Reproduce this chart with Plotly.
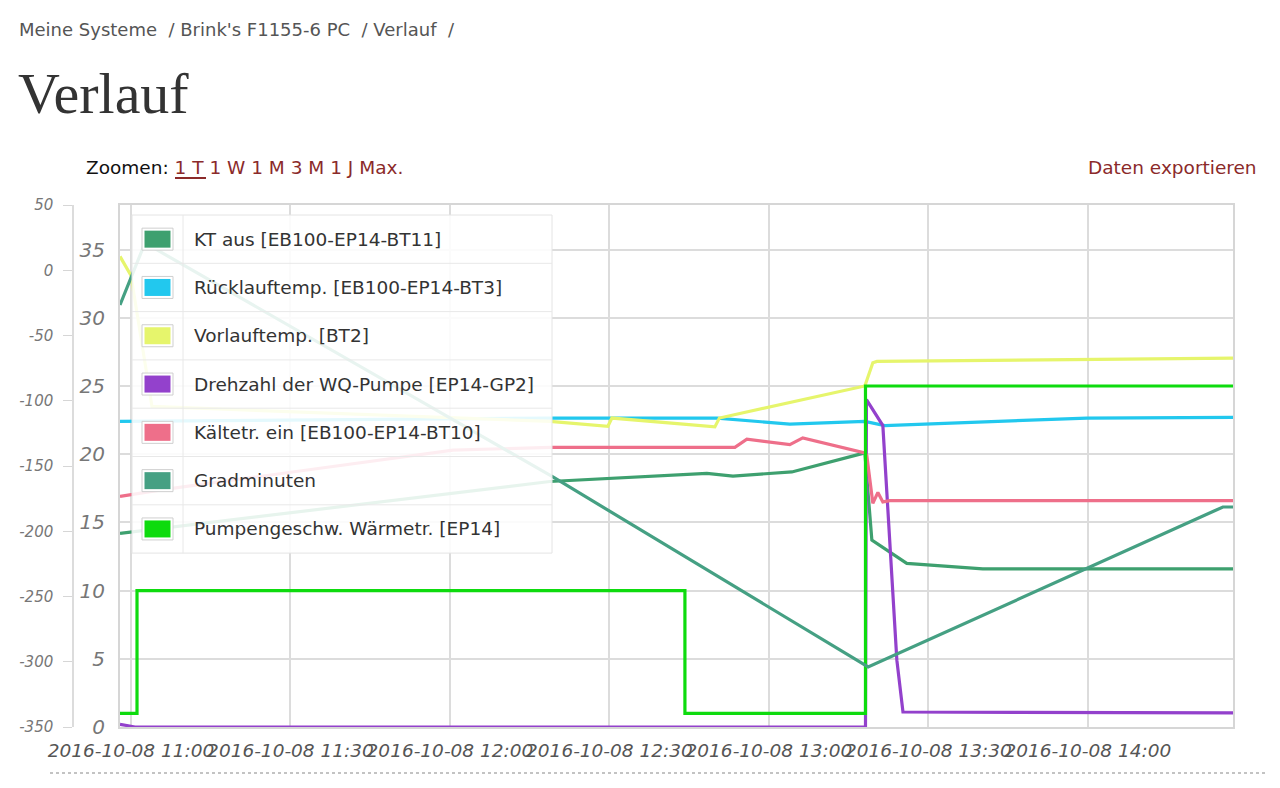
import plotly.graph_objects as go

DAY = "2016-10-08 "

# --- data (times on 2016-10-08) ---
kt_aus_t = ["10:57:56", "12:18:48", "12:48:20", "12:53:14", "13:04:19", "13:18:03",
            "13:19:22", "13:25:56", "13:40:14", "14:27:18"]
kt_aus_v = [14.2, 18.0, 18.6, 18.4, 18.7, 20.1, 13.7, 12.0, 11.6, 11.6]

ruecklauf_t = ["10:57:56", "12:18:48", "12:50:15", "13:03:56", "13:18:03", "13:21:48",
               "13:59:48", "14:27:18"]
ruecklauf_v = [22.4, 22.65, 22.65, 22.2, 22.4, 22.1, 22.65, 22.7]

vorlauf_t = ["10:57:56", "11:00:00", "11:03:57", "12:18:48", "12:29:43", "12:30:28",
             "12:49:50", "12:50:41", "13:18:03", "13:19:33", "13:20:20", "13:59:48", "14:27:18"]
vorlauf_v = [34.5, 33.1, 23.5, 22.4, 22.05, 22.65, 22.0, 22.65, 25.0, 26.7, 26.8, 26.95, 27.05]

drehzahl_t = ["10:57:56", "11:00:45", "13:18:10", "13:18:21", "13:21:26", "13:23:07",
              "13:24:04", "13:25:13", "14:27:18"]
drehzahl_v = [0.2, 0.0, 0.0, 24.0, 22.1, 11.3, 4.9, 1.1, 1.03]

kaeltetr_t = ["10:57:56", "11:06:01", "12:00:34", "12:18:48", "12:53:36", "12:55:51",
              "13:03:56", "13:06:22", "13:18:03", "13:18:25", "13:19:33", "13:20:30",
              "13:21:26", "13:22:45", "14:27:18"]
kaeltetr_v = [16.9, 17.4, 20.3, 20.5, 20.5, 21.1, 20.7, 21.2, 20.1, 19.9, 16.4, 17.2,
              16.5, 16.6, 16.6]

gradmin_t = ["10:57:56", "11:02:38", "12:19:22", "13:18:40", "14:25:24", "14:27:18"]
gradmin_v = [-26.6, 20.9, -158.4, -304.0, -181.4, -181.4]

pumpe_t = ["10:57:56", "11:01:08", "12:44:12", "13:18:10", "14:27:18"]
pumpe_v = [1.0, 10.0, 1.0, 25.0, 25.0]

tick_times = ["11:00", "11:30", "12:00", "12:30", "13:00", "13:30", "14:00"]
left_ticks = [0, 5, 10, 15, 20, 25, 30, 35]
outer_ticks = [-350, -300, -250, -200, -150, -100, -50, 0, 50]

series = [
    ("KT aus [EB100-EP14-BT11]", kt_aus_t, kt_aus_v, "#3ea06f", "y", "linear"),
    ("Rücklauftemp. [EB100-EP14-BT3]", ruecklauf_t, ruecklauf_v, "#22c8ee", "y", "linear"),
    ("Vorlauftemp. [BT2]", vorlauf_t, vorlauf_v, "#e6f56c", "y", "linear"),
    ("Drehzahl der WQ-Pumpe [EP14-GP2]", drehzahl_t, drehzahl_v, "#9341cc", "y", "linear"),
    ("Kältetr. ein [EB100-EP14-BT10]", kaeltetr_t, kaeltetr_v, "#ee6f8a", "y", "linear"),
    ("Gradminuten", gradmin_t, gradmin_v, "#45a083", "y2", "linear"),
    ("Pumpengeschw. Wärmetr. [EP14]", pumpe_t, pumpe_v, "#0edb0e", "y", "hv"),
]

W, H = 1280, 788
FONT = "DejaVu Sans"
LINK = "#8b2a2a"


def px(x):
    return x / W


def py(y):
    return 1 - y / H


fig = go.Figure()
for name, t, v, color, axis, shape in series:
    fig.add_trace(go.Scatter(
        x=[DAY + s for s in t], y=v, name=name, yaxis=axis, mode="lines",
        line=dict(color=color, width=3.2, shape=shape), showlegend=False,
    ))

fig.update_layout(
    width=W, height=H, margin=dict(l=0, r=0, t=0, b=0),
    paper_bgcolor="white", plot_bgcolor="white",
    font=dict(family=FONT, color="#555"),
    xaxis=dict(
        type="date", domain=[px(120), px(1233)],
        range=[DAY + "10:57:56", DAY + "14:27:18"],
        tickvals=[DAY + s for s in tick_times],
        ticktext=[DAY + s for s in tick_times],
        tickangle=0, ticks="", ticklabelstandoff=6,
        tickfont=dict(size=18.5, style="italic", color="#555"),
        showgrid=True, gridcolor="#dcdcdc", gridwidth=1.5,
        showline=True, mirror=True, linecolor="#d6d6d6", linewidth=2,
        zeroline=False, automargin=False,
    ),
    yaxis=dict(
        domain=[py(727), py(205)], range=[0, 38.27],
        tickvals=left_ticks, ticks="", ticklabelstandoff=9,
        tickfont=dict(size=20, style="italic", color="#777"),
        showgrid=True, gridcolor="#dcdcdc", gridwidth=1.5,
        showline=True, mirror=True, linecolor="#d6d6d6", linewidth=2,
        zeroline=False, automargin=False,
    ),
    yaxis2=dict(
        overlaying="y", anchor="free", side="left", position=px(73),
        range=[-350, 50], tickvals=outer_ticks, ticktext=[str(v) for v in outer_ticks],
        ticks="outside", ticklen=9, tickcolor="#d6d6d6", ticklabelstandoff=7,
        tickfont=dict(size=15, style="italic", color="#777"),
        showgrid=False, zeroline=False,
        showline=True, linecolor="#dcdcdc", linewidth=1.5, automargin=False,
    ),
)

shapes = []
annotations = []

# page header
annotations.append(dict(
    text="Meine Systeme  / Brink's F1155-6 PC  / Verlauf  /",
    x=px(17), y=py(29), xref="paper", yref="paper", xanchor="left", yanchor="middle",
    showarrow=False, font=dict(family=FONT, size=18, color="#555"),
))
annotations.append(dict(
    text="Verlauf", x=px(16), y=py(93), xref="paper", yref="paper",
    xanchor="left", yanchor="middle", showarrow=False,
    font=dict(family="Liberation Serif", size=58, color="#333"),
))
annotations.append(dict(
    text="Zoomen: <span style='color:%s'>1 T 1 W 1 M 3 M 1 J Max.</span>" % LINK,
    x=px(84), y=py(168), xref="paper", yref="paper", xanchor="left", yanchor="middle",
    showarrow=False, font=dict(family=FONT, size=18.5, color="#111"),
))
shapes.append(dict(type="line", xref="paper", yref="paper", x0=px(175), x1=px(206),
                   y0=py(178), y1=py(178), line=dict(color=LINK, width=2)))
annotations.append(dict(
    text="Daten exportieren", x=px(1259), y=py(168), xref="paper", yref="paper",
    xanchor="right", yanchor="middle", showarrow=False,
    font=dict(family=FONT, size=18.5, color=LINK),
))
shapes.append(dict(type="line", xref="paper", yref="paper", x0=px(50), x1=px(1266),
                   y0=py(773), y1=py(773), line=dict(color="#b0b0b0", width=1.5, dash="dot")))

# legend table drawn over the plot
top, row_h, left, right, split = 215, 48.3, 132, 552, 183
shapes.append(dict(type="rect", xref="paper", yref="paper", layer="above",
                   x0=px(left), x1=px(right), y0=py(top), y1=py(top + 7 * row_h),
                   fillcolor="rgba(255,255,255,0.88)", line=dict(color="#e4e4e4", width=1)))
shapes.append(dict(type="line", xref="paper", yref="paper", layer="above",
                   x0=px(split), x1=px(split), y0=py(top), y1=py(top + 7 * row_h),
                   line=dict(color="#e8e8e8", width=1)))
for i, (name, _, _, color, _, _) in enumerate(series):
    yc = top + row_h * (i + 0.5)
    if i > 0:
        shapes.append(dict(type="line", xref="paper", yref="paper", layer="above",
                           x0=px(left), x1=px(right), y0=py(top + row_h * i), y1=py(top + row_h * i),
                           line=dict(color="#e8e8e8", width=1)))
    shapes.append(dict(type="rect", xref="paper", yref="paper", layer="above",
                       x0=px(142), x1=px(173), y0=py(yc - 11), y1=py(yc + 11),
                       fillcolor="white", line=dict(color="#cfcfcf", width=1)))
    shapes.append(dict(type="rect", xref="paper", yref="paper", layer="above",
                       x0=px(144.5), x1=px(170.5), y0=py(yc - 8.5), y1=py(yc + 8.5),
                       fillcolor=color, line=dict(width=0)))
    annotations.append(dict(
        text=name, x=px(192), y=py(yc), xref="paper", yref="paper",
        xanchor="left", yanchor="middle", showarrow=False,
        font=dict(family=FONT, size=18.5, color="#333"),
    ))

fig.update_layout(shapes=shapes, annotations=annotations)

fig.write_html("out.html", config={"displayModeBar": False},
               post_script="document.body.style.margin='0';")
